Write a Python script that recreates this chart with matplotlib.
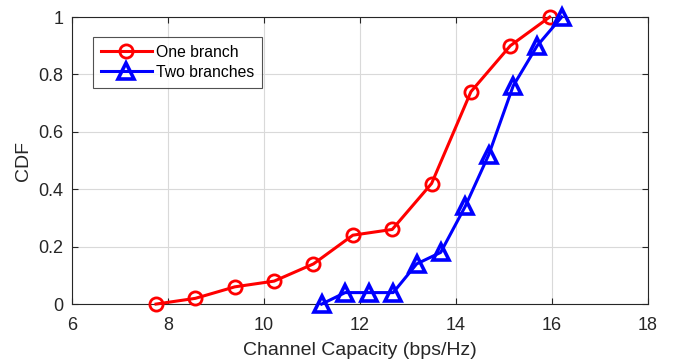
import matplotlib
matplotlib.use("Agg")
import matplotlib.pyplot as plt

plt.rcParams['font.family'] = ['Liberation Sans', 'DejaVu Sans']

# CDF of channel capacity
one_branch_x = [7.75, 8.57, 9.39, 10.21, 11.03, 11.85, 12.67, 13.49, 14.31, 15.13, 15.95]
one_branch_cdf = [0.0, 0.02, 0.06, 0.08, 0.14, 0.24, 0.26, 0.42, 0.74, 0.90, 1.0]

two_branch_x = [11.2, 11.69, 12.19, 12.69, 13.18, 13.68, 14.19, 14.68, 15.19, 15.69, 16.2]
two_branch_cdf = [0.0, 0.04, 0.04, 0.04, 0.14, 0.18, 0.34, 0.52, 0.76, 0.90, 1.0]

x_ticks = [6, 8, 10, 12, 14, 16, 18]
y_ticks = [0, 0.2, 0.4, 0.6, 0.8, 1]
y_tick_labels = ['0', '0.2', '0.4', '0.6', '0.8', '1']

fig = plt.figure(figsize=(6.73, 3.62), dpi=100)
ax = fig.add_axes([0.107, 0.160, 0.856, 0.793])

axis_color = (0.15, 0.15, 0.15)

ax.plot(one_branch_x, one_branch_cdf, color='red', lw=2.2, marker='o',
        markersize=9.5, markerfacecolor='none', markeredgewidth=2,
        label='One branch', clip_on=False, zorder=3)
ax.plot(two_branch_x, two_branch_cdf, color='blue', lw=2.2, marker='^',
        markersize=11, markerfacecolor='none', markeredgewidth=2.6,
        label='Two branches', clip_on=False, zorder=3)

ax.set_xlim(6, 18)
ax.set_ylim(0, 1)
ax.set_xticks(x_ticks)
ax.set_yticks(y_ticks)
ax.set_yticklabels(y_tick_labels)
ax.grid(True, color=(0.85, 0.85, 0.85), lw=0.8)
ax.set_axisbelow(True)

ax.tick_params(direction='in', top=True, right=True, length=4,
               colors=axis_color, labelsize=13, labelcolor=axis_color)
ax.tick_params(axis='x', pad=9)
ax.tick_params(axis='y', pad=6)
for sp in ax.spines.values():
    sp.set_color(axis_color)
    sp.set_linewidth(0.8)

ax.set_xlabel('Channel Capacity (bps/Hz)', fontsize=14, color=axis_color, labelpad=6)
ax.set_ylabel('CDF', fontsize=14, color=axis_color, labelpad=5)

leg = ax.legend(loc='upper left', bbox_to_anchor=(0.036, 0.930), fontsize=11.3,
                frameon=True, fancybox=False, edgecolor=axis_color,
                borderpad=0.5, handlelength=3.3, handletextpad=0.25,
                labelspacing=0.3, borderaxespad=0)
leg.get_frame().set_linewidth(0.8)

fig.savefig('out.png', dpi=100)
